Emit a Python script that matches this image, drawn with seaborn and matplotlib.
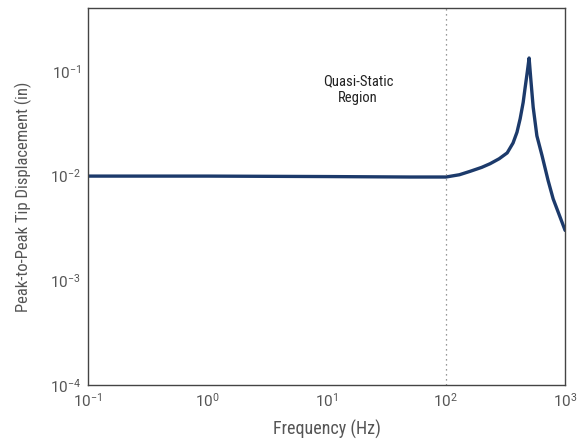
import numpy as np
import pandas as pd
import matplotlib
matplotlib.use('Agg')
import matplotlib.pyplot as plt
import seaborn as sns

# response curve
freq_hz = [0.1, 1, 10, 50, 100, 130, 160, 200, 235, 280, 327, 366, 395, 420, 445,
           462, 482, 499, 515, 540, 580, 641, 720, 794, 1000]
disp_in = [0.0099, 0.0099, 0.0098, 0.0097, 0.0097, 0.0102, 0.0110, 0.0120, 0.0130,
           0.0145, 0.0165, 0.0205, 0.026, 0.035, 0.050, 0.069, 0.098, 0.133, 0.085,
           0.045, 0.024, 0.0155, 0.0090, 0.0060, 0.003]
xticks = [0.1, 1, 10, 100, 1000]
xticklabels = ['$10^{-1}$', '$10^{0}$', '$10^{1}$', '$10^{2}$', '$10^{3}$']
yticks = [1e-4, 1e-3, 1e-2, 1e-1]
yticklabels = ['$10^{-4}$', '$10^{-3}$', '$10^{-2}$', '$10^{-1}$']

sns.set_style('white')
plt.rcParams['font.family'] = ['Roboto Condensed', 'Liberation Sans Narrow',
                               'Roboto', 'DejaVu Sans']
plt.rcParams['mathtext.fontset'] = 'custom'
plt.rcParams['mathtext.rm'] = 'Roboto'
plt.rcParams['mathtext.it'] = 'Roboto'

df = pd.DataFrame({'freq': freq_hz, 'disp': disp_in})

fig = plt.figure(figsize=(5.79, 4.41), dpi=100)
ax = fig.add_axes([0.152, 0.127, 0.824, 0.855])
sns.lineplot(data=df, x='freq', y='disp', color='#1c3a6b', linewidth=2.4, ax=ax)
ax.set_xscale('log')
ax.set_yscale('log')
ax.set_xlim(0.1, 1000)
ax.set_ylim(1e-4, 0.4)

ax.axvline(100, color='#777777', linestyle=(0, (1, 3)), linewidth=0.9)
ax.text(18.4, 0.066, 'Quasi-Static\nRegion', ha='center', va='center',
        fontsize=10.5, color='#222222')

ax.set_xticks(xticks)
ax.set_xticklabels(xticklabels)
ax.set_yticks(yticks)
ax.set_yticklabels(yticklabels)
ax.minorticks_off()
ax.tick_params(length=0, labelsize=11, colors='#555555', pad=5)
ax.set_xlabel('Frequency (Hz)', fontsize=13, color='#555555', labelpad=7)
ax.set_ylabel('Peak-to-Peak Tip Displacement (in)', fontsize=12, color='#555555',
              labelpad=13)
for sp in ax.spines.values():
    sp.set_color('#444444')
    sp.set_linewidth(1.0)

fig.savefig('out.png', dpi=100)
